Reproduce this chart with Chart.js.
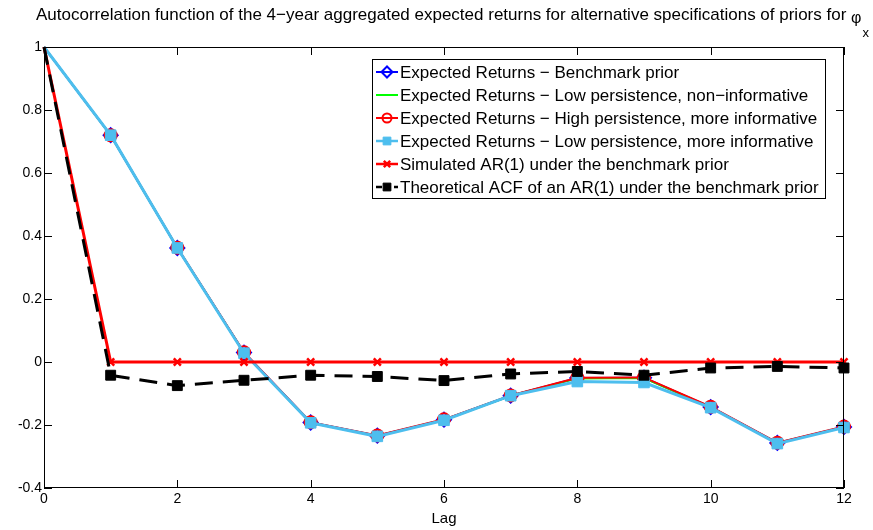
<!DOCTYPE html>
<html>
  <head>
    <meta charset="utf-8">
    <title>ACF of expected returns</title>
    <script src="https://cdn.jsdelivr.net/npm/chart.js@4.4.1/dist/chart.umd.min.js"></script>
    <style>
      body { margin: 0; background: #fff; }
      #wrap { width: 873px; height: 530px; }
    </style>
  </head>
  <body>
    <div id="wrap"><canvas id="canvas" width="873" height="530"></canvas></div>
    <script>
      // values
      var lags = [0, 1, 2, 3, 4, 5, 6, 7, 8, 9, 10, 11, 12];
      var benchmark   = [1, 0.72, 0.362, 0.030, -0.192, -0.234, -0.183, -0.107, -0.051, -0.050, -0.143, -0.257, -0.206];
      var lowNonInf   = [1, 0.72, 0.362, 0.029, -0.193, -0.235, -0.184, -0.107, -0.052, -0.051, -0.144, -0.258, -0.207];
      var highMoreInf = [1, 0.72, 0.363, 0.031, -0.191, -0.233, -0.182, -0.106, -0.050, -0.049, -0.142, -0.256, -0.205];
      var lowMoreInf  = [1, 0.72, 0.362, 0.028, -0.193, -0.236, -0.185, -0.107, -0.062, -0.065, -0.145, -0.259, -0.208];
      var simulated   = [1, 0, 0, 0, 0, 0, 0, 0, 0, 0, 0, 0, 0];
      var theoretical = [1, -0.042, -0.075, -0.058, -0.042, -0.046, -0.059, -0.038, -0.030, -0.042, -0.019, -0.014, -0.019];

      var xTicks = [0, 2, 4, 6, 8, 10, 12];
      var yTicks = [-0.4, -0.2, 0, 0.2, 0.4, 0.6, 0.8, 1];
      var yTickLabels = ['-0.4', '-0.2', '0', '0.2', '0.4', '0.6', '0.8', '1'];

      var seriesNames = [
        'Expected Returns \u2212 Benchmark prior',
        'Expected Returns \u2212 Low persistence, non\u2212informative',
        'Expected Returns \u2212 High persistence, more informative',
        'Expected Returns \u2212 Low persistence, more informative',
        'Simulated AR(1) under the benchmark prior',
        'Theoretical ACF of an AR(1) under the benchmark prior'
      ];
      var titleText = 'Autocorrelation function of the 4\u2212year aggregated expected returns for alternative specifications of priors for ';

      var FONT = '"Liberation Sans", Arial, Helvetica, sans-serif';

      function pts(vals) {
        return lags.map(function (l, i) { return { x: l, y: vals[i] }; });
      }
      // no marker at lag 0
      function radii(r) {
        return lags.map(function (l) { return l === 0 ? 0 : r; });
      }

      var datasets = [
        { label: seriesNames[0], data: pts(benchmark), borderColor: '#0000ff', borderWidth: 2,
          pointStyle: 'rectRot', pointRadius: radii(7), legendRadius: 5.5, pointBorderWidth: 2,
          pointBackgroundColor: 'rgba(0,0,0,0)', pointBorderColor: '#0000ff', order: 6 },
        { label: seriesNames[1], data: pts(lowNonInf), borderColor: '#00ff00', borderWidth: 2,
          pointRadius: 0, legendRadius: 0, order: 5 },
        { label: seriesNames[2], data: pts(highMoreInf), borderColor: '#ff0000', borderWidth: 2,
          pointStyle: 'circle', pointRadius: radii(6), legendRadius: 4.5, pointBorderWidth: 2,
          pointBackgroundColor: 'rgba(0,0,0,0)', pointBorderColor: '#ff0000', order: 4 },
        { label: seriesNames[3], data: pts(lowMoreInf), borderColor: '#4dbeee', borderWidth: 3,
          pointStyle: 'rect', pointRadius: radii(7.5), legendRadius: 5.5, pointBorderWidth: 1,
          pointBackgroundColor: '#4dbeee', pointBorderColor: '#4dbeee', order: 3 },
        { label: seriesNames[4], data: pts(simulated), borderColor: '#ff0000', borderWidth: 3,
          pointStyle: 'crossRot', pointRadius: radii(5), legendRadius: 4.5, pointBorderWidth: 2.5,
          pointBorderColor: '#ff0000', order: 2 },
        { label: seriesNames[5], data: pts(theoretical), borderColor: '#000000', borderWidth: 3,
          borderDash: [18, 10], pointStyle: 'rect', pointRadius: radii(7), legendRadius: 5.5,
          pointBorderWidth: 1, pointBackgroundColor: '#000000', pointBorderColor: '#000000', order: 1 }
      ];
      datasets.forEach(function (d) { d.clip = false; d.tension = 0; d.fill = false; });

      // MATLAB style box, inward ticks, title, xlabel and legend
      var matlabLook = {
        id: 'matlabLook',
        afterDatasetsDraw: function (chart) {
          var ctx = chart.ctx, a = chart.chartArea;
          var xs = chart.scales.x, ys = chart.scales.y;
          ctx.save();
          ctx.strokeStyle = '#000';
          ctx.lineWidth = 1;
          ctx.setLineDash([]);
          ctx.strokeRect(a.left + 0.5, a.top + 0.5, a.right - a.left - 1, a.bottom - a.top - 1);
          ctx.beginPath();
          xTicks.forEach(function (t) {
            var px = Math.round(xs.getPixelForValue(t)) + 0.5;
            ctx.moveTo(px, a.bottom); ctx.lineTo(px, a.bottom - 8);
            ctx.moveTo(px, a.top); ctx.lineTo(px, a.top + 8);
          });
          yTicks.forEach(function (t) {
            var py = Math.round(ys.getPixelForValue(t)) + 0.5;
            ctx.moveTo(a.left, py); ctx.lineTo(a.left + 8, py);
            ctx.moveTo(a.right, py); ctx.lineTo(a.right - 8, py);
          });
          ctx.stroke();

          // title
          ctx.fillStyle = '#000';
          ctx.textBaseline = 'middle';
          ctx.textAlign = 'left';
          ctx.font = '17px ' + FONT;
          ctx.fillText(titleText, 36, 15);
          var w = ctx.measureText(titleText).width;
          ctx.font = '16px ' + FONT;
          ctx.fillText('\u03c6', 36 + w, 19);
          var pw = ctx.measureText('\u03c6').width;
          ctx.font = '13px ' + FONT;
          ctx.fillText('x', 36 + w + pw + 1, 33);

          // x label
          ctx.font = '15px ' + FONT;
          ctx.textAlign = 'center';
          ctx.fillText('Lag', (a.left + a.right) / 2, 519);

          // legend
          var lx = 372, ly = 59, lw = 453, lh = 139;
          ctx.fillStyle = '#fff';
          ctx.fillRect(lx, ly, lw, lh);
          ctx.strokeRect(lx + 0.5, ly + 0.5, lw, lh);
          ctx.font = '17px ' + FONT;
          ctx.textAlign = 'left';
          chart.data.datasets.forEach(function (d, i) {
            var cy = 72 + i * 23;
            ctx.beginPath();
            ctx.strokeStyle = d.borderColor;
            ctx.lineWidth = Math.min(d.borderWidth, 2.5);
            ctx.setLineDash(d.borderDash ? [6, 3] : []);
            ctx.moveTo(376, cy); ctx.lineTo(398, cy);
            ctx.stroke();
            ctx.setLineDash([]);
            if (d.legendRadius > 0) {
              ctx.strokeStyle = d.pointBorderColor;
              ctx.fillStyle = d.pointBackgroundColor || d.pointBorderColor;
              ctx.lineWidth = d.pointBorderWidth;
              Chart.helpers.drawPoint(ctx, {
                pointStyle: d.pointStyle, rotation: 0,
                radius: d.legendRadius, borderWidth: d.pointBorderWidth
              }, 387, cy);
            }
            ctx.fillStyle = '#000';
            ctx.fillText(d.label, 400, cy + 1);
          });
          ctx.restore();
        }
      };

      var ctx = document.getElementById('canvas').getContext('2d');
      var myChart = new Chart(ctx, {
        type: 'line',
        data: { datasets: datasets },
        options: {
          responsive: false,
          animation: false,
          layout: { padding: { top: 47, right: 29, left: 0, bottom: 0 } },
          plugins: { legend: { display: false }, tooltip: { enabled: false } },
          scales: {
            x: {
              type: 'linear', min: 0, max: 12,
              afterFit: function (s) { s.height = 42; },
              afterBuildTicks: function (s) { s.ticks = xTicks.map(function (v) { return { value: v }; }); },
              grid: { display: false, drawTicks: false },
              border: { display: false },
              ticks: { color: '#000', padding: 3, maxRotation: 0, autoSkip: false,
                font: { family: FONT, size: 14 } }
            },
            y: {
              type: 'linear', min: -0.4, max: 1,
              afterFit: function (s) { s.width = 44; },
              afterBuildTicks: function (s) { s.ticks = yTicks.map(function (v) { return { value: v }; }); },
              grid: { display: false, drawTicks: false },
              border: { display: false },
              ticks: { color: '#000', padding: 2, autoSkip: false,
                font: { family: FONT, size: 14 },
                callback: function (v, i) { return yTickLabels[i]; } }
            }
          }
        },
        plugins: [matlabLook]
      });
    </script>
  </body>
</html>
